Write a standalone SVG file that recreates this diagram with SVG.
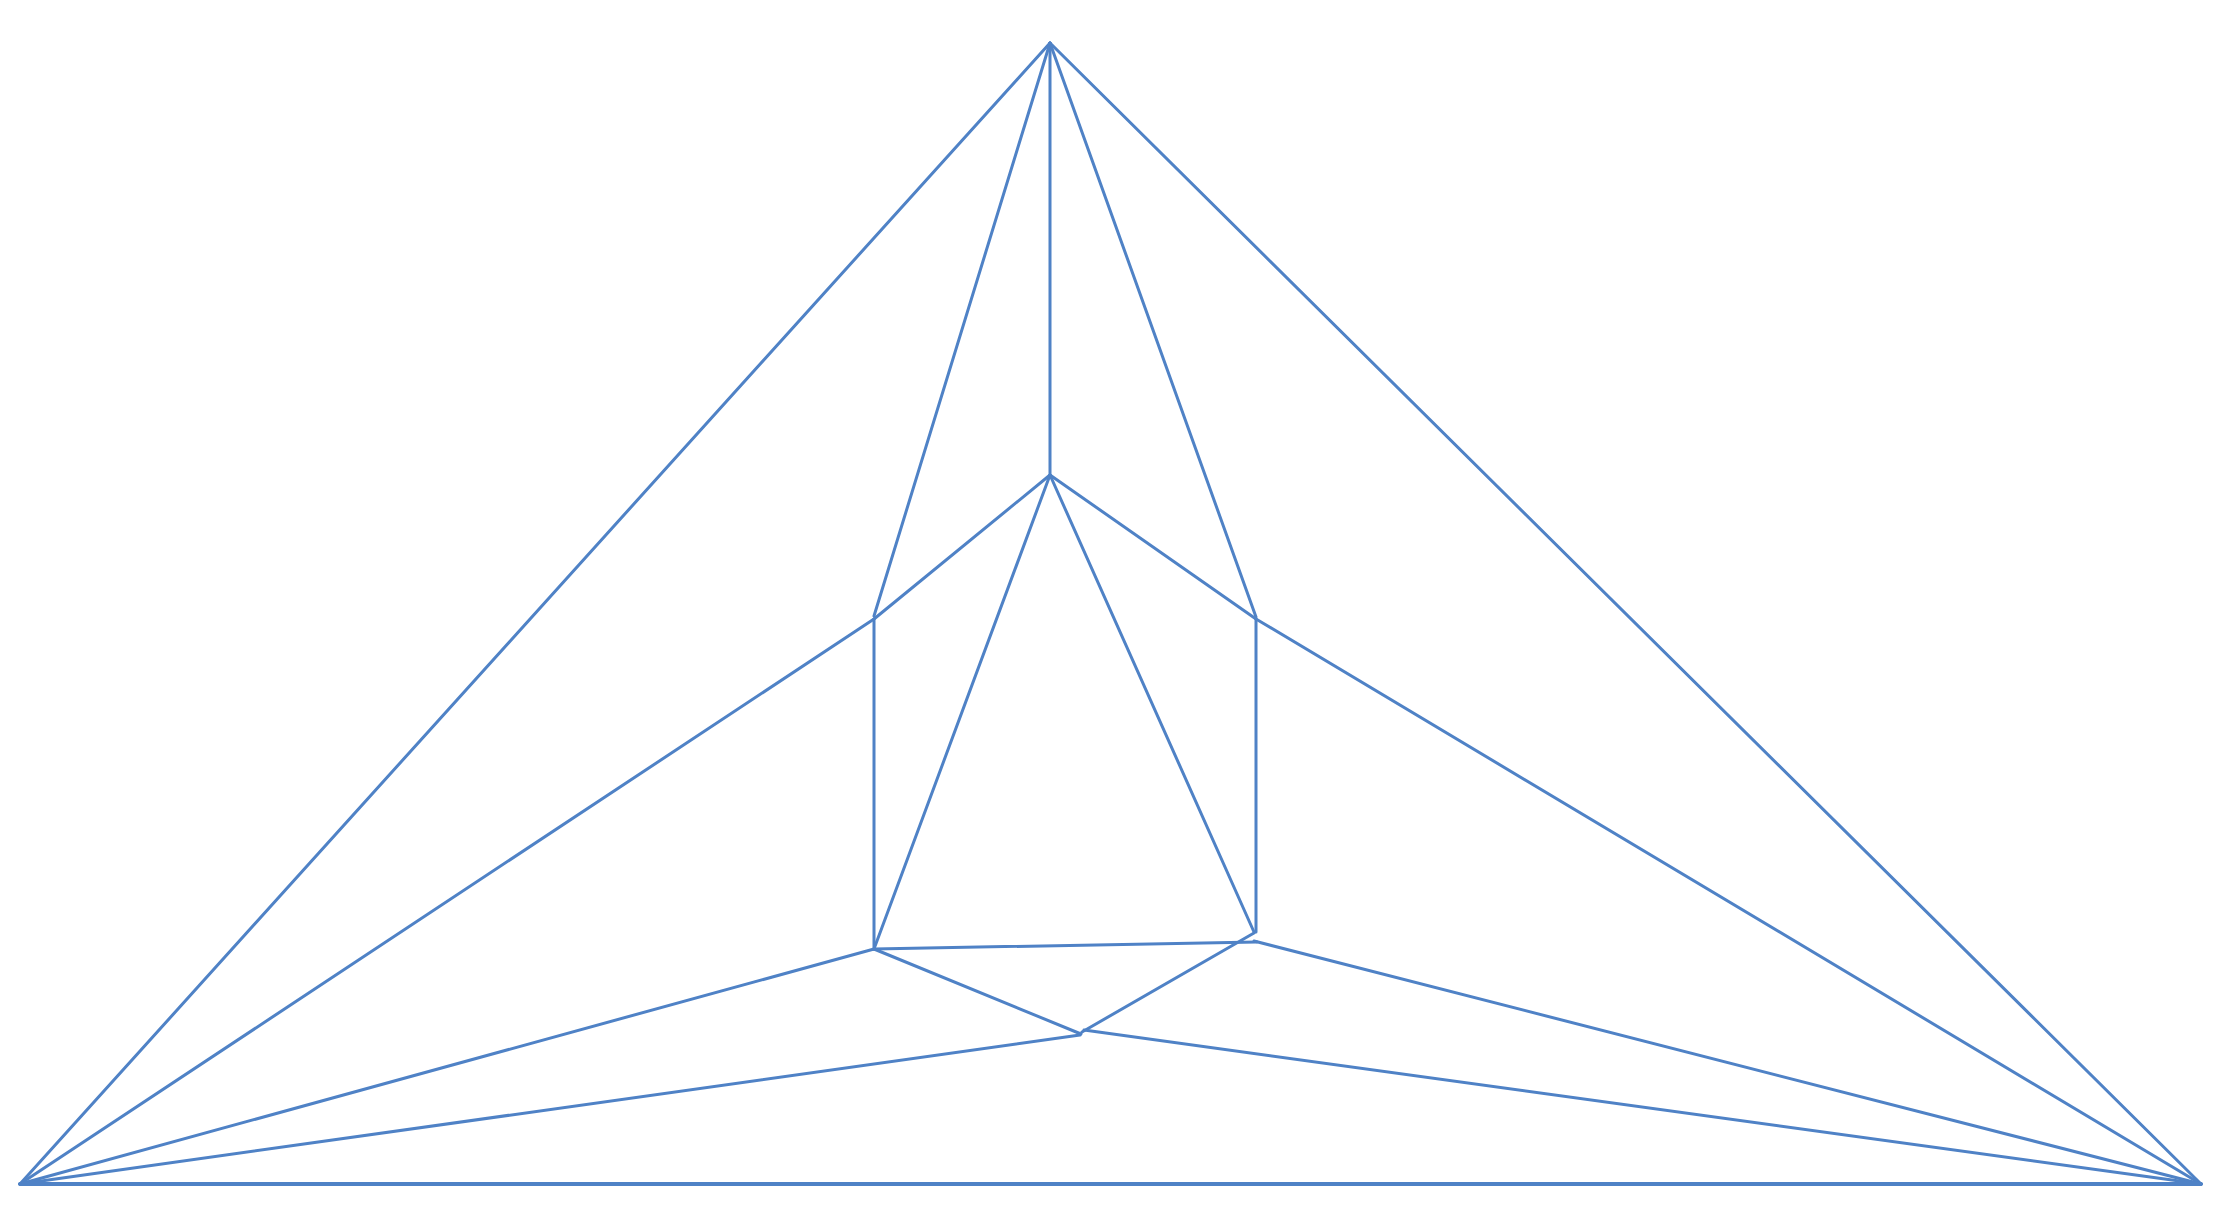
<svg xmlns="http://www.w3.org/2000/svg" width="2214" height="1217" viewBox="0 0 2214 1217">
<style>
.e{stroke:#4f82c6;stroke-width:3;fill:none;stroke-linecap:round;stroke-linejoin:round}
.b{stroke-width:4}
</style>
<rect width="2214" height="1217" fill="#ffffff"/>
<g id="connectors">
<line class="e" x1="1050" y1="43" x2="20" y2="1184"/>
<line class="e" x1="1050" y1="43" x2="2201" y2="1184"/>
<line class="e" x1="1050" y1="43" x2="1050" y2="475"/>
<line class="e" x1="1050" y1="43" x2="874" y2="616"/>
<line class="e" x1="1050" y1="43" x2="1256" y2="617"/>
<line class="e" x1="1050" y1="475" x2="874" y2="619"/>
<line class="e" x1="1050" y1="475" x2="1256" y2="619"/>
<line class="e" x1="1050" y1="475" x2="874" y2="949"/>
<line class="e" x1="1050" y1="475" x2="1254" y2="932"/>
<line class="e" x1="874" y1="619" x2="874" y2="949"/>
<line class="e" x1="1256" y1="619" x2="1256" y2="932"/>
<line class="e" x1="874" y1="619" x2="20" y2="1184"/>
<line class="e" x1="1256" y1="619" x2="2201" y2="1184"/>
<line class="e" x1="874" y1="949" x2="1257" y2="942"/>
<line class="e" x1="874" y1="949" x2="1081" y2="1034"/>
<line class="e" x1="1082" y1="1032" x2="1254" y2="933"/>
<line class="e" x1="874" y1="949" x2="20" y2="1184"/>
<line class="e" x1="1254" y1="941" x2="2201" y2="1184"/>
<line class="e" x1="1080" y1="1035" x2="20" y2="1184"/>
<line class="e" x1="1084" y1="1030" x2="2201" y2="1184"/>
<line class="e b" x1="20" y1="1184" x2="2201" y2="1184"/>
</g>
</svg>
